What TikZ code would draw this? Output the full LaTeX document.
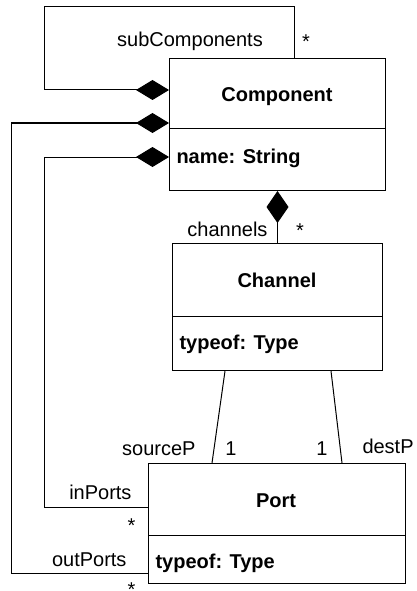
\documentclass[tikz,border=0pt]{standalone}
\usepackage{fontspec}
\setmainfont{Liberation Sans}
\usetikzlibrary{arrows.meta,calc}
\begin{document}
\begin{tikzpicture}[x=1pt,y=-1pt,line width=1pt,
  classbox/.style={draw,rectangle,inner sep=0pt,anchor=north west},
  txt/.style={inner sep=0pt,font=\fontsize{20}{24}\selectfont},
  title/.style={txt,font=\fontsize{20}{24}\selectfont\bfseries,anchor=base},
  attr/.style={txt,font=\fontsize{20}{24}\selectfont\bfseries,anchor=base west},
  lbl/.style={txt,anchor=base},
  compo/.style={{Diamond[length=33pt,width=20pt]}-}]
\useasboundingbox (0,0) rectangle (416,591);

% class boxes
\node[classbox,minimum width=216pt,minimum height=132pt] (comp) at (169,58) {};
\node[classbox,minimum width=210pt,minimum height=127pt] (chan) at (172,243) {};
\node[classbox,minimum width=257pt,minimum height=120pt] (port) at (148,463) {};

% compartment dividers
\draw ($(comp.north west)+(0,70)$) -- ($(comp.north east)+(0,70)$);
\draw ($(chan.north west)+(0,73)$) -- ($(chan.north east)+(0,73)$);
\draw ($(port.north west)+(0,72)$) -- ($(port.north east)+(0,72)$);

% class names and attributes
\node[title] (compT) at (277,101.5) {Component};
\node[attr]  (compA) at (176,163) {name: String};
\node[title] (chanT) at (277,287) {Channel};
\node[attr]  (chanA) at (179,349) {typeof: Type};
\node[title] (portT) at (276,507) {Port};
\node[attr]  (portA) at (155,568) {typeof: Type};

% subComponents: composition of Component with itself
\draw[compo] ($(comp.north west)+(0,32)$) -| ($(comp.north west)+(-125,-51)$) -| ($(comp.north west)+(125,0)$);
\node[lbl] (subL) at (190,47) {subComponents};
\node[lbl] (subM) at (306,49) {*};

% channels
\draw[{Diamond[length=32pt,width=22pt]}-] (comp.south) -- (chan.north);
\node[lbl,anchor=base east] (chL) at (268,236) {channels};
\node[lbl] (chM) at (300,237) {*};

% inPorts and outPorts
\draw[compo] ($(comp.north west)+(0,99)$) -- ++(-125,0) |- ($(port.north west)+(0,44)$);
\draw[compo] ($(comp.north west)+(0,65)$) -- ++(-158,0) |- ($(port.north west)+(0,110)$);
\node[lbl,anchor=base east] (inL) at (132,499) {inPorts};
\node[lbl] (inM) at (131.5,532) {*};
\node[lbl,anchor=base east] (outL) at (127,566) {outPorts};
\node[lbl] (outM) at (131.5,596) {*};

% source and destination ports of a channel
\draw ($(chan.south west)+(53,0)$) -- ($(port.north west)+(64,0)$);
\draw ($(chan.south west)+(159,0)$) -- ($(port.north west)+(194,0)$);
\node[lbl,anchor=base east] (srcL) at (196,455) {sourceP};
\node[lbl] (srcM) at (231,455) {1};
\node[lbl] (dstM) at (322,455) {1};
\node[lbl,anchor=base west] (dstL) at (362,453) {destP};
\end{tikzpicture}
\end{document}
